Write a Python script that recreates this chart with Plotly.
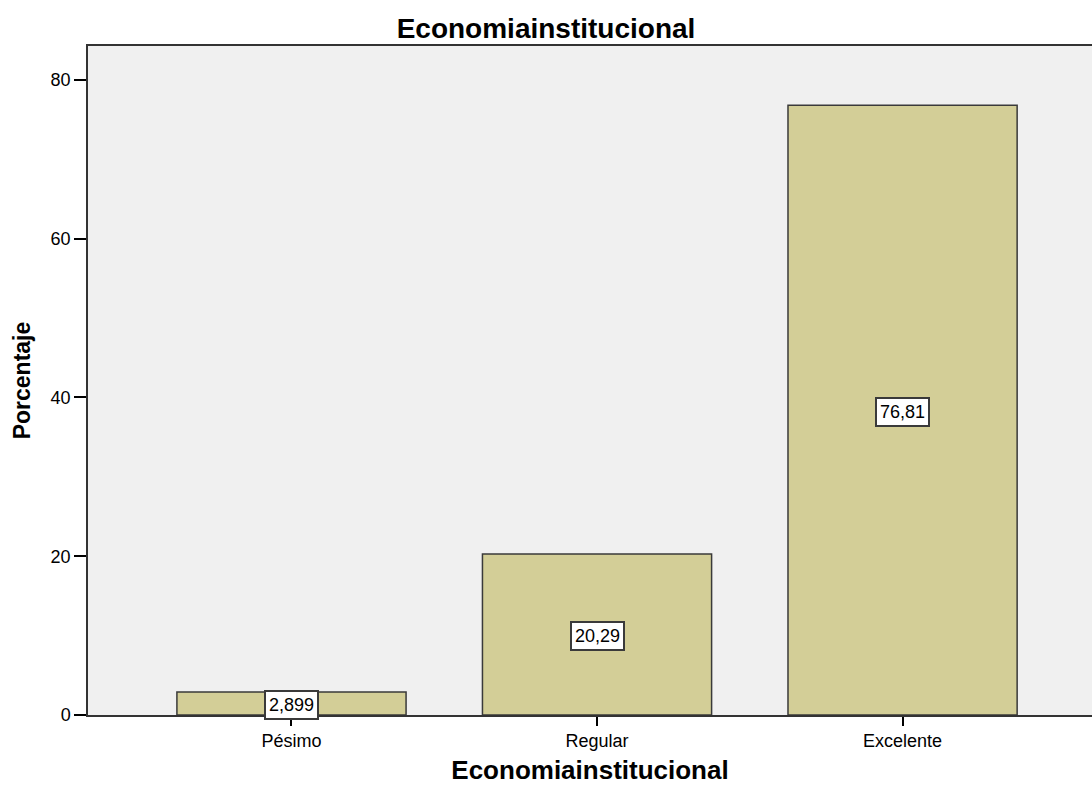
import plotly.graph_objects as go

categories = ["Pésimo", "Regular", "Excelente"]
values = [2.899, 20.29, 76.81]
value_labels = ["2,899", "20,29", "76,81"]
y_ticks = [0, 20, 40, 60, 80]

FONT = "Liberation Sans, Arial"

fig = go.Figure()
fig.add_trace(go.Bar(
    x=list(range(len(categories))),
    y=values,
    width=0.75,
    marker=dict(color="#D3CE97", line=dict(color="#3a3a3a", width=1.5)),
    hoverinfo="skip",
))

for i, (v, lab) in enumerate(zip(values, value_labels)):
    fig.add_annotation(
        x=i, y=v / 2, text=lab, showarrow=False, yshift=-2,
        font=dict(family=FONT, size=18, color="#000"),
        bgcolor="white", bordercolor="#3a3a3a", borderwidth=2, borderpad=3,
    )

fig.update_layout(
    width=1092, height=785,
    margin=dict(l=88, r=0, t=46, b=70),
    paper_bgcolor="white",
    plot_bgcolor="#F0F0F0",
    showlegend=False,
    title=dict(text="<b>Economiainstitucional</b>", x=0.5, xanchor="center",
               y=1 - 28 / 785, yanchor="middle",
               font=dict(family=FONT, size=28, color="#000")),
    font=dict(family=FONT, size=18, color="#000"),
)

fig.update_xaxes(
    range=[-0.666, 2.62], automargin=False,
    tickmode="array", tickvals=list(range(len(categories))), ticktext=categories,
    ticks="outside", ticklen=9, tickcolor="#000", tickwidth=1.5,
    tickfont=dict(family=FONT, size=18, color="#000"),
    showline=True, linecolor="#333", linewidth=1.5, mirror=True,
    showgrid=False, zeroline=False,
    title=dict(text="<b>Economiainstitucional</b>", standoff=18,
               font=dict(family=FONT, size=26, color="#000")),
)
fig.update_yaxes(
    range=[0, 84.26], automargin=False,
    tickmode="array", tickvals=y_ticks,
    ticks="outside", ticklen=12, tickcolor="#000", tickwidth=1.5,
    tickfont=dict(family=FONT, size=18, color="#000"),
    showline=True, linecolor="#333", linewidth=1.5,
    showgrid=False, zeroline=False,
    title=dict(text="<b>Porcentaje</b>", standoff=14,
               font=dict(family=FONT, size=23, color="#000")),
)

fig.write_html("out.html", config={"displayModeBar": False},
               post_script="document.body.style.margin='0';")
